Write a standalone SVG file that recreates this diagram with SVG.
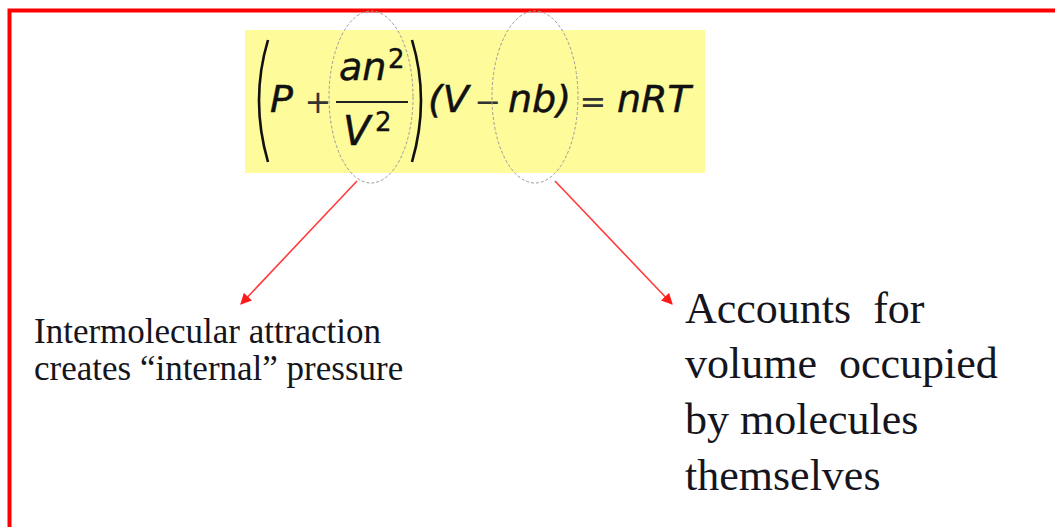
<svg xmlns="http://www.w3.org/2000/svg" width="1055" height="527" viewBox="0 0 1055 527">
  <style>
    .eq { font-family: "DejaVu Sans", Verdana, sans-serif; font-style: italic; fill: #111; stroke: #111; stroke-width: 0.5; }
    .op { font-family: "DejaVu Sans", Verdana, sans-serif; fill: #333; }
    .sup { font-family: "DejaVu Sans", Verdana, sans-serif; fill: #111; stroke: #111; stroke-width: 0.4; font-size: 26px; }
    .lbl { font-family: "Liberation Serif", "Times New Roman", serif; fill: #151520; white-space: pre; }
    .ring { fill: none; stroke: #9a9a9a; stroke-width: 1; stroke-dasharray: 3 2; }
    .arrow { fill: none; stroke: #ff3b3b; stroke-width: 1.6; marker-end: url(#head); }
  </style>
  <defs>
    <marker id="head" viewBox="0 0 10 10" refX="9" refY="5" markerWidth="7" markerHeight="7" orient="auto" markerUnits="strokeWidth">
      <path d="M0,0 L10,5 L0,10 z" fill="#ff1a1a"/>
    </marker>
  </defs>
  <rect x="0" y="0" width="1055" height="527" fill="#ffffff"/>
  <rect id="frame" x="9.5" y="10.5" width="1100" height="600" fill="none" stroke="#ff0000" stroke-width="4"/>

  <g id="equation">
    <rect x="245" y="30" width="460" height="143" fill="#fdfb9a"/>
    <path d="M268,40 Q250,100 268,162" fill="none" stroke="#111" stroke-width="2.6"/>
    <path d="M412,40 Q430,100 412,162" fill="none" stroke="#111" stroke-width="2.6"/>
    <text class="eq" x="270" y="112" font-size="38">P</text>
    <text class="op" x="318" y="113" font-size="32" text-anchor="middle">+</text>
    <text class="eq" x="339" y="80" font-size="38">an</text>
    <text class="sup" x="388" y="68">2</text>
    <line x1="336" y1="102" x2="408" y2="102" stroke="#222" stroke-width="2"/>
    <text class="eq" x="343" y="145" font-size="40">V</text>
    <text class="sup" x="375" y="131">2</text>
    <text class="eq" x="428" y="112" font-size="38">(V</text>
    <text class="op" x="488" y="113" font-size="32" text-anchor="middle">−</text>
    <text class="eq" x="508" y="112" font-size="38">nb)</text>
    <text class="op" x="593" y="113" font-size="32" text-anchor="middle">=</text>
    <text class="eq" x="617" y="112" font-size="38">nRT</text>
    <ellipse class="ring" cx="371" cy="97" rx="42" ry="86"/>
    <ellipse class="ring" cx="535" cy="97" rx="43" ry="86"/>
  </g>

  <g id="connectors">
    <line class="arrow" x1="357" y1="181" x2="241" y2="304"/>
    <line class="arrow" x1="555" y1="181" x2="672" y2="304"/>
  </g>

  <g id="attraction-label">
    <text class="lbl" font-size="35"><tspan x="34" y="343">Intermolecular attraction</tspan><tspan x="34" y="380">creates “internal” pressure</tspan></text>
  </g>

  <g id="volume-label">
    <text class="lbl" font-size="44"><tspan x="685" y="323">Accounts  for</tspan><tspan x="685" y="378">volume  occupied</tspan><tspan x="685" y="434">by molecules</tspan><tspan x="685" y="490">themselves</tspan></text>
  </g>
</svg>
